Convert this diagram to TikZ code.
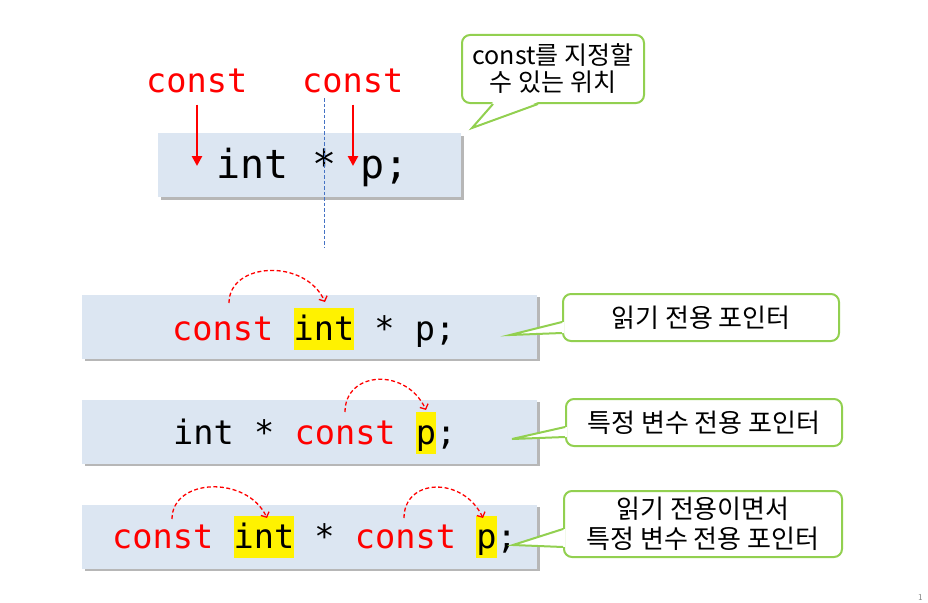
\documentclass[tikz,border=0pt]{standalone}
\usepackage{fontspec}
\setmonofont{DejaVu Sans Mono}
\newfontfamily\krfont{Noto Sans CJK KR}
\usetikzlibrary{arrows.meta,shadows,calc}
\definecolor{boxblue}{HTML}{DCE6F2}
\definecolor{cgreen}{HTML}{92D050}
\definecolor{cred}{HTML}{FF0000}
\definecolor{dblue}{HTML}{4472C4}
\newcommand\hlt[1]{{\setlength\fboxsep{0pt}\colorbox{yellow}{\rule[-0.3em]{0pt}{1.25em}#1}}}
\newcommand\rd[1]{\textcolor{cred}{#1}}
\begin{document}
\begin{tikzpicture}[x=1pt,y=-1pt,
  codebox/.style={fill=boxblue, draw=none, inner sep=0pt,
    drop shadow={shadow xshift=2.5pt, shadow yshift=-2.5pt, fill=black!40, opacity=0.7}},
  code/.style={font=\ttfamily\fontsize{33.6}{40}\selectfont, inner sep=0pt, anchor=base west},
  bigcode/.style={font=\ttfamily\fontsize{40}{48}\selectfont, inner sep=0pt, anchor=base west},
  callout/.style={draw=cgreen, line width=2pt, fill=white, rounded corners=8pt,
    align=center, inner sep=0pt, font=\krfont\fontsize{26}{29}\selectfont},
  tail/.style={draw=cgreen, line width=2pt, line join=miter},
  redarrow/.style={draw=cred, line width=2.8pt, -{Triangle[length=10pt,width=10pt]}},
  jump/.style={draw=cred, line width=1.3pt, dash pattern=on 4pt off 2.5pt,
    -{Straight Barb[length=4pt,width=9pt]}},
  guide/.style={draw=dblue, line width=1pt, dash pattern=on 3.5pt off 2pt}]
\useasboundingbox (0,0) rectangle (928,602);
\fill[white] (0,0) rectangle (928,602);

% ---- top part ----
\node[codebox, minimum width=303pt, minimum height=64pt] (b0) at (309.5,165) {};
\node[bigcode] (l0) at (216,178) {int * p;};
\node[code, text=cred] (k1) at (146,92) {const};
\node[code, text=cred] (k2) at (302,92) {const};
\coordinate (a1) at (197,166);
\coordinate (a2) at (353,166);
\draw[redarrow] ([yshift=-12pt]k1.south -| a1) -- (a1);
\draw[redarrow] ([yshift=-12pt]k2.south -| a2) -- (a2);
\coordinate (g1) at (324,98);
\coordinate (g2) at (324,248);
\draw[guide] (g1) -- (g2);

% top callout
\node[callout, minimum width=182pt, minimum height=68pt,
  font=\krfont\fontsize{25}{27}\selectfont] (c0) at (553,69)
  {const를 지정할\\수 있는 위치};
\coordinate (t0) at (472,128);
\fill[white] ($(c0.south)+(-60,-2)$) -- (t0) -- ($(c0.south)+(-15,-2)$) -- cycle;
\draw[tail] ($(c0.south)+(-60,0)$) -- (t0) -- ($(c0.south)+(-15,0)$);

% ---- rows ----
\node[codebox, minimum width=455pt, minimum height=64pt] (b1) at (309.5,326.5) {};
\node[codebox, minimum width=455pt, minimum height=64pt] (b2) at (309.5,431.5) {};
\node[codebox, minimum width=455pt, minimum height=64pt] (b3) at (309.5,536.5) {};

\node[code] (r1) at (172,340) {\rd{const} \hlt{int} * p;};
\node[code] (r2) at (173,444) {int * \rd{const} \hlt{p};};
\node[code] (r3) at (112,548) {\rd{const} \hlt{int} * \rd{const} \hlt{p};};

% jumps
\coordinate (s1) at (229,303); \coordinate (e1) at (325,302);
\draw[jump] (s1) .. controls (229,262) and (305,258) .. (e1);
\coordinate (s2) at (345,412); \coordinate (e2) at (426,410);
\draw[jump] (s2) .. controls (345,371) and (406,367) .. (e2);
\coordinate (s3) at (172,519); \coordinate (e3) at (267,518);
\draw[jump] (s3) .. controls (172,478) and (247,475) .. (e3);
\coordinate (s4) at (404,518); \coordinate (e4) at (483,518);
\draw[jump] (s4) .. controls (404,478) and (463,476) .. (e4);

% callouts
\node[callout, minimum width=276pt, minimum height=47pt] (c1) at (701,317.5) {읽기 전용 포인터};
\coordinate (t1) at (510,335);
\fill[white] ($(c1.west)+(2,4.5)$) -- (t1) -- ($(c1.west)+(2,15.5)$) -- cycle;
\draw[tail] ($(c1.west)+(0,4.5)$) -- (t1) -- ($(c1.west)+(0,15.5)$);

\node[callout, minimum width=276pt, minimum height=47pt] (c2) at (704,422.5) {특정 변수 전용 포인터};
\coordinate (t2) at (512,439);
\fill[white] ($(c2.west)+(2,4.5)$) -- (t2) -- ($(c2.west)+(2,14.5)$) -- cycle;
\draw[tail] ($(c2.west)+(0,4.5)$) -- (t2) -- ($(c2.west)+(0,14.5)$);

\node[callout, minimum width=278pt, minimum height=66pt,
  font=\krfont\fontsize{26}{30}\selectfont] (c3) at (703,524) {읽기 전용이면서\\특정 변수 전용 포인터};
\coordinate (t3) at (513,545);
\fill[white] ($(c3.west)+(2,5)$) -- (t3) -- ($(c3.west)+(2,23)$) -- cycle;
\draw[tail] ($(c3.west)+(0,5)$) -- (t3) -- ($(c3.west)+(0,23)$);

% page number
\node[text=black!50, font=\sffamily\fontsize{9}{9}\selectfont, anchor=base west, inner sep=0pt] (pg) at (918,600) {1};
\end{tikzpicture}
\end{document}
